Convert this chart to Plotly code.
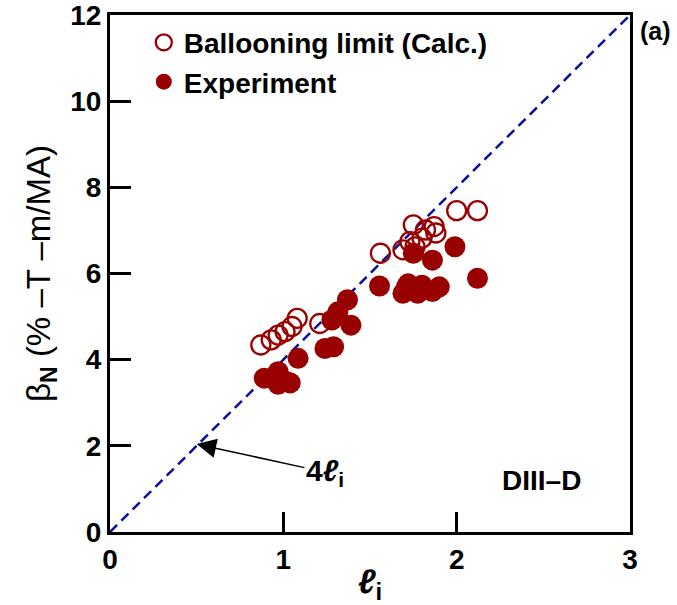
import plotly.graph_objects as go

# Ballooning limit (calculated) - open circles
li_calc = [0.87, 0.93, 0.97, 1.01, 1.05, 1.08, 1.21, 1.56, 1.69, 1.73, 1.76, 1.75, 1.80, 1.82, 1.87, 1.88, 2.00, 2.12]
bn_calc = [4.34, 4.46, 4.57, 4.65, 4.77, 4.96, 4.84, 6.47, 6.55, 6.74, 6.62, 7.13, 6.82, 7.01, 7.09, 6.94, 7.46, 7.46]

# Experiment - filled circles
li_exp = [0.89, 0.97, 0.97, 1.02, 1.04, 1.085, 1.24, 1.29, 1.28, 1.315, 1.37, 1.39, 1.555,
          1.69, 1.71, 1.72, 1.775, 1.80, 1.86, 1.90, 1.75, 1.86, 1.99, 2.12]
bn_exp = [3.57, 3.72, 3.43, 3.49, 3.46, 4.03, 4.26, 4.30, 4.92, 5.11, 5.39, 4.80, 5.71,
          5.54, 5.69, 5.76, 5.54, 5.73, 5.58, 5.69, 6.47, 6.31, 6.62, 5.89]

# 4*li reference line
line_x = [0, 3]
line_y = [0, 12]

x_ticks = [0, 1, 2, 3]
y_ticks = [0, 2, 4, 6, 8, 10, 12]

RED = "#990000"
FONT = "Liberation Sans, Arial, sans-serif"

fig = go.Figure()
fig.add_trace(go.Scatter(
    x=line_x, y=line_y, mode="lines", showlegend=False,
    line=dict(color="#0c0c9c", width=2.5, dash="10px,6px"),
))
fig.add_trace(go.Scatter(
    x=li_calc, y=bn_calc, mode="markers", name="<b>Ballooning limit (Calc.)</b>",
    marker=dict(symbol="circle-open", size=19, color=RED, line=dict(width=2.3, color=RED)),
))
fig.add_trace(go.Scatter(
    x=li_exp, y=bn_exp, mode="markers", name="<b>Experiment</b>",
    marker=dict(symbol="circle", size=21, color=RED, line=dict(width=0)),
))

fig.update_layout(
    width=677, height=605,
    margin=dict(l=110, r=47, t=15, b=73),
    plot_bgcolor="white", paper_bgcolor="white",
    font=dict(family=FONT, color="black"),
    legend=dict(
        x=0.065, y=0.995, xanchor="left", yanchor="top",
        bgcolor="rgba(0,0,0,0)", font=dict(size=28, family=FONT),
        itemsizing="trace", tracegroupgap=2,
    ),
    xaxis=dict(
        range=[0, 3], tickvals=x_ticks, ticktext=[f"<b>{v}</b>" for v in x_ticks],
        ticks="inside", ticklen=20, tickwidth=3, tickcolor="black",
        showline=True, linewidth=3, linecolor="black", mirror=True,
        showgrid=False, zeroline=False, tickfont=dict(size=28), automargin=False,
        ticklabeloverflow="allow",
        title=dict(text="<b><i>ℓ</i><sub>i</sub></b>", font=dict(size=34), standoff=6),
    ),
    yaxis=dict(
        range=[0, 12], tickvals=y_ticks, ticktext=[f"<b>{v}</b>" for v in y_ticks],
        ticks="inside", ticklen=21, tickwidth=3, tickcolor="black",
        showline=True, linewidth=3, linecolor="black", mirror=True,
        showgrid=False, zeroline=False, tickfont=dict(size=28), automargin=False,
        ticklabeloverflow="allow",
        title=dict(text="β<sub><b>N</b></sub> (% –T –m/MA)", font=dict(size=33), standoff=10),
    ),
    annotations=[
        dict(x=0.5, y=2.04, xref="x", yref="y", ax=1.24, ay=1.39, axref="x", ayref="y",
             text="<b>4<i>ℓ</i><sub>i</sub></b>", font=dict(size=30),
             showarrow=True, arrowhead=2, arrowsize=2.6, arrowwidth=1.5, arrowcolor="black"),
        dict(x=2.49, y=1.2, xref="x", yref="y", text="<b>DIII–D</b>", showarrow=False,
             font=dict(size=28)),
        dict(x=1.0, y=0.97, xref="paper", yref="paper", xanchor="left", yanchor="middle",
             xshift=8, text="<b>(a)</b>", showarrow=False, font=dict(size=25)),
    ],
)

fig.write_html("out.html")
